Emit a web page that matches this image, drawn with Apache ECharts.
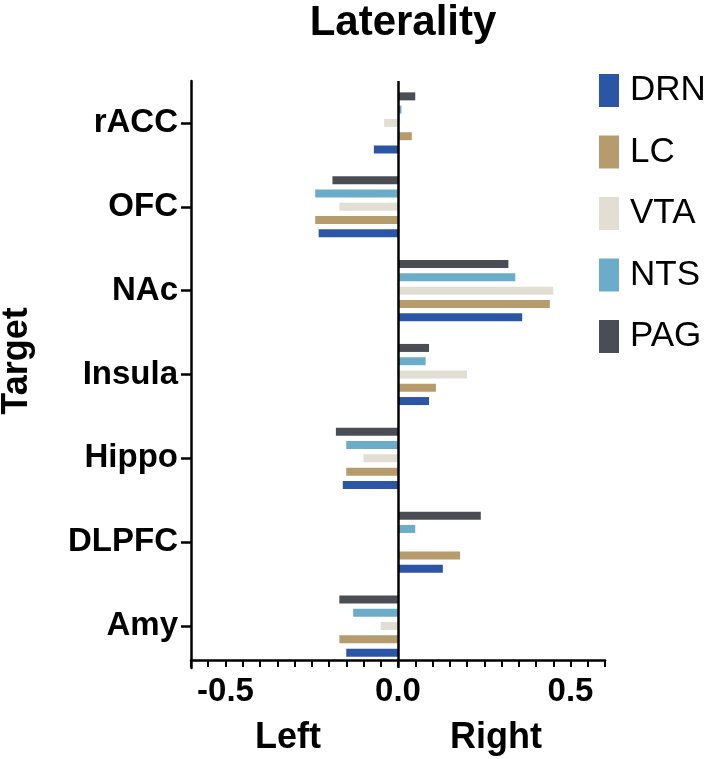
<!DOCTYPE html>
<html>
<head>
<meta charset="utf-8">
<script src="https://cdn.jsdelivr.net/npm/echarts@6/dist/echarts.min.js"></script>
<style>html,body{margin:0;padding:0;background:#fff;}#c{width:709px;height:759px;}</style>
</head>
<body>
<div id="c"></div>
<script>
// Categories, bottom to top
const categories = ['Amy', 'DLPFC', 'Hippo', 'Insula', 'NAc', 'OFC', 'rACC'];
const seriesNames = ['DRN', 'LC', 'VTA', 'NTS', 'PAG'];
const DRN = [-0.15, 0.13, -0.16, 0.09, 0.36, -0.23, -0.07];
const LC  = [-0.17, 0.18, -0.15, 0.11, 0.44, -0.24, 0.04];
const VTA = [-0.05, 0.00, -0.10, 0.20, 0.45, -0.17, -0.04];
const NTS = [-0.13, 0.05, -0.15, 0.08, 0.34, -0.24, 0.01];
const PAG = [-0.17, 0.24, -0.18, 0.09, 0.32, -0.19, 0.05];
const xTickLabels = [-0.5, 0.0, 0.5];

const values = [DRN, LC, VTA, NTS, PAG];
const colors = ['#2b55a5', '#b69b6c', '#e3ded4', '#6badc8', '#4a4e54'];
const FONT = '"Liberation Sans", Arial, Helvetica, sans-serif';

const chart = echarts.init(document.getElementById('c'), null, {renderer: 'canvas'});

// Series are added in reverse so DRN sits at the bottom of each group
const series = [];
for (let i = seriesNames.length - 1; i >= 0; i--) {
  series.push({
    name: seriesNames[i],
    type: 'bar',
    data: values[i],
    barWidth: 8,
    barGap: '66%',
    itemStyle: {color: colors[i]},
    silent: true,
    markLine: i === 0 ? {
      silent: true,
      symbol: ['none', 'none'],
      label: {show: false},
      lineStyle: {color: '#000', width: 2.5, type: 'solid'},
      data: [{xAxis: 0}]
    } : undefined
  });
}

chart.setOption({
  animation: false,
  backgroundColor: '#fff',
  title: {
    text: 'Laterality',
    left: 398,
    textAlign: 'center',
    top: -3,
    textStyle: {fontFamily: FONT, fontWeight: 'bold', fontSize: 42, color: '#000'}
  },
  legend: {
    orient: 'vertical',
    left: 599,
    top: 73,
    padding: 0,
    itemWidth: 20,
    itemHeight: 33,
    itemGap: 26.5,
    icon: 'rect',
    data: seriesNames,
    textStyle: {fontFamily: FONT, fontSize: 35, color: '#000', padding: [0, 0, 0, 6]}
  },
  grid: {left: 191, right: 104, top: 81, bottom: 91, containLabel: false},
  xAxis: {
    type: 'value',
    min: -0.6,
    max: 0.6,
    interval: 0.05,
    offset: -8,
    axisLine: {show: true, onZero: false, lineStyle: {color: '#000', width: 2.5}},
    axisTick: {show: true, length: 7, lineStyle: {color: '#000', width: 2}},
    splitLine: {show: false},
    axisLabel: {
      margin: 15,
      fontFamily: FONT, fontWeight: 'bold', fontSize: 33, color: '#000',
      formatter: function (v) {
        for (const t of xTickLabels) {
          if (Math.abs(v - t) < 1e-9) return t.toFixed(1);
        }
        return '';
      }
    }
  },
  yAxis: {
    type: 'category',
    data: categories,
    axisLine: {show: true, onZero: false, lineStyle: {color: '#000', width: 2.5}},
    axisTick: {show: true, alignWithLabel: true, length: 10, lineStyle: {color: '#000', width: 2.5}},
    axisLabel: {margin: 13, fontFamily: FONT, fontWeight: 'bold', fontSize: 33, color: '#000'},
    splitLine: {show: false}
  },
  graphic: [
    {type: 'text', x: 288, y: 738, style: {text: 'Left', fontFamily: FONT, fontWeight: 'bold', fontSize: 36, fill: '#000', textAlign: 'center', textVerticalAlign: 'middle'}},
    {type: 'text', x: 496, y: 738, style: {text: 'Right', fontFamily: FONT, fontWeight: 'bold', fontSize: 36, fill: '#000', textAlign: 'center', textVerticalAlign: 'middle'}},
    {type: 'text', x: 17, y: 361, rotation: Math.PI / 2, style: {text: 'Target', fontFamily: FONT, fontWeight: 'bold', fontSize: 36, fill: '#000', textAlign: 'center', textVerticalAlign: 'middle'}}
  ],
  series: series
});
</script>
</body>
</html>
